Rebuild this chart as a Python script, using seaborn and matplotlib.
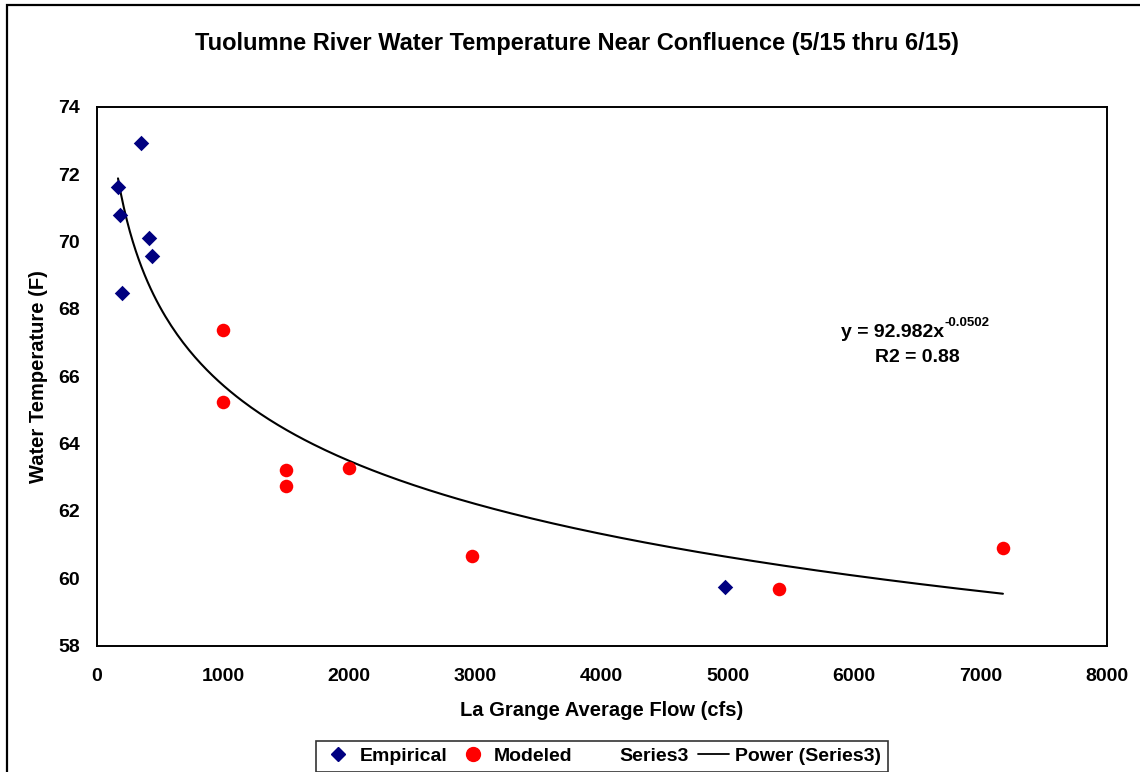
import numpy as np
import pandas as pd
import seaborn as sns
import matplotlib.pyplot as plt
from matplotlib.lines import Line2D
from matplotlib.patches import Rectangle

# data
emp_flow = [350, 169, 187, 414, 440, 200, 4977]
emp_temp = [72.93, 71.63, 70.78, 70.10, 69.57, 68.47, 59.74]

mod_flow = [1000, 1000, 1500, 1500, 2000, 2975, 5404, 7178]
mod_temp = [67.36, 65.23, 63.23, 62.73, 63.28, 60.67, 59.68, 60.90]

# power trendline shown on the chart: y = a * x^b
fit_a = 92.982
fit_b = -0.0502
fit_r2 = 0.88

x_ticks = [0, 1000, 2000, 3000, 4000, 5000, 6000, 7000, 8000]
y_ticks = [58, 60, 62, 64, 66, 68, 70, 72, 74]

sns.set_style("white")
plt.rcParams['font.family'] = ['Liberation Sans', 'DejaVu Sans']
plt.rcParams['font.weight'] = 'bold'
plt.rcParams['text.color'] = 'black'
plt.rcParams['axes.labelcolor'] = 'black'
plt.rcParams['xtick.color'] = 'black'
plt.rcParams['ytick.color'] = 'black'

emp = pd.DataFrame({'flow': emp_flow, 'temp': emp_temp})
mod = pd.DataFrame({'flow': mod_flow, 'temp': mod_temp})
all_flow = emp_flow + mod_flow
curve_x = np.linspace(min(all_flow), max(all_flow), 300)
trend = pd.DataFrame({'flow': curve_x, 'temp': fit_a * curve_x ** fit_b})

fig = plt.figure(figsize=(11.4, 7.72), dpi=100)
ax = fig.add_axes([0.0848, 0.1636, 0.886, 0.6982])

sns.lineplot(data=trend, x='flow', y='temp', color='black', lw=1.5,
             estimator=None, sort=True, ax=ax)
sns.scatterplot(data=emp, x='flow', y='temp', marker='D', s=62,
                color='#000080', edgecolor='#000080', linewidth=0, ax=ax, zorder=3)
sns.scatterplot(data=mod, x='flow', y='temp', marker='o', s=95,
                color='#ff0000', edgecolor='#ff0000', linewidth=0, ax=ax, zorder=3)

ax.set_xlim(0, 8000)
ax.set_ylim(58, 74)
ax.set_xticks(x_ticks)
ax.set_yticks(y_ticks)
ax.tick_params(axis='both', direction='out', length=6, width=1.2,
               labelsize=14, color='black', labelcolor='black')
ax.tick_params(axis='x', pad=10)
ax.tick_params(axis='y', pad=6)
for lab in ax.get_xticklabels() + ax.get_yticklabels():
    lab.set_fontweight('bold')
for sp in ax.spines.values():
    sp.set_color('black')
    sp.set_linewidth(1.4)

ax.set_xlabel('La Grange Average Flow (cfs)', fontsize=14.5, fontweight='bold',
              ha='center', va='center')
ax.xaxis.set_label_coords(0.5, -0.121)
ax.set_ylabel('Water Temperature (F)', fontsize=14.5, fontweight='bold',
              ha='center', va='center')
ax.yaxis.set_label_coords(-0.058, 0.5)

fig.text(0.5057, 0.944, 'Tuolumne River Water Temperature Near Confluence (5/15 thru 6/15)',
         fontsize=17, fontweight='bold', ha='center', va='center')

# trendline equation
eq = ax.text(5895, 67.16, f'y = {fit_a}x', fontsize=14, fontweight='bold',
             ha='left', va='baseline')
ax.annotate(f'{fit_b}', xy=(1, 0.72), xycoords=eq, fontsize=9.5,
            fontweight='bold', ha='left', va='bottom')
ax.text(6497, 66.42, f'R2 = {fit_r2}', fontsize=14, fontweight='bold',
        ha='center', va='baseline')

# legend at the bottom
handles = [
    Line2D([], [], marker='D', color='#000080', ls='none', markersize=7.5),
    Line2D([], [], marker='o', color='#ff0000', ls='none', markersize=10),
    Line2D([], [], ls='none'),
    Line2D([], [], color='black', lw=1.3),
]
labels = ['Empirical', 'Modeled', 'Series3', 'Power (Series3)']
leg = fig.legend(handles, labels, loc='center', bbox_to_anchor=(0.528, 0.0201),
                 ncol=4, frameon=True, fancybox=False, shadow=False,
                 prop={'size': 14, 'weight': 'bold'}, handlelength=1.6,
                 handletextpad=0.3, columnspacing=0.5, borderpad=0.35)
leg.get_frame().set_edgecolor('black')
leg.get_frame().set_linewidth(1.2)

# outer chart border (cropped on the right and bottom)
fig.patches.append(Rectangle((7 / 1140, -0.1), 1.0, 1.1 - 5 / 772,
                             transform=fig.transFigure, fill=False,
                             edgecolor='black', lw=1.6, clip_on=False))

fig.savefig('out.png', dpi=100)
